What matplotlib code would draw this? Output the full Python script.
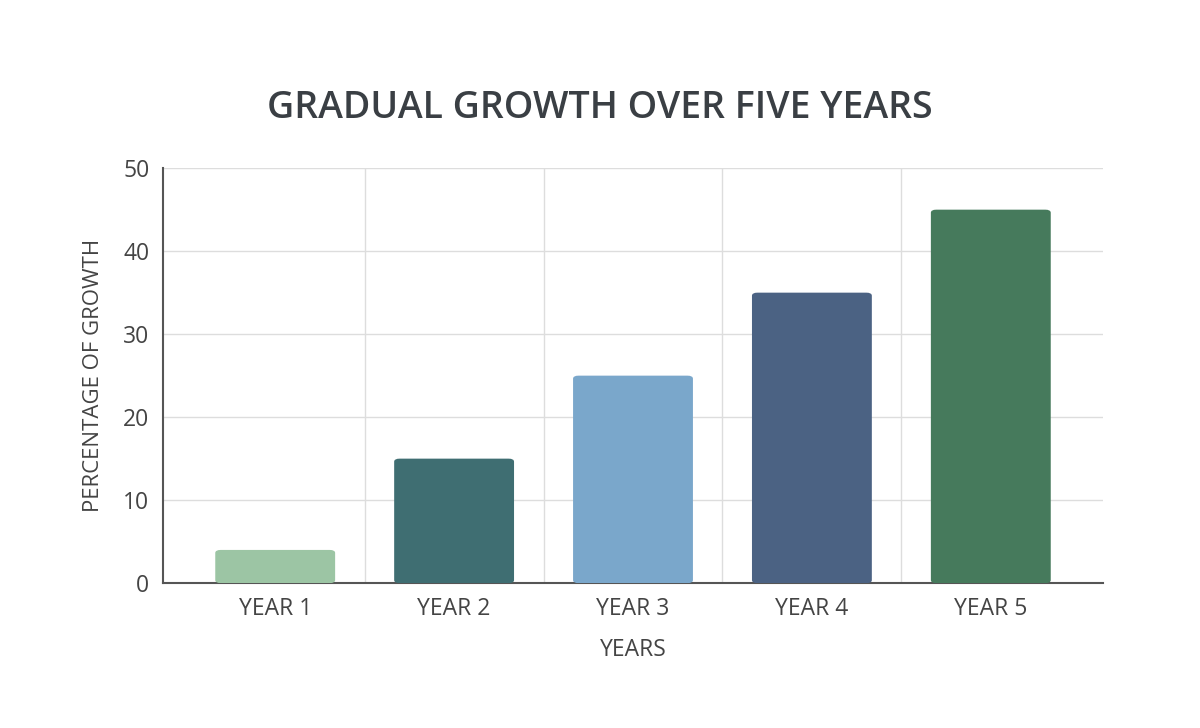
import matplotlib
matplotlib.use("Agg")
import matplotlib.pyplot as plt
from matplotlib.patches import FancyBboxPatch

categories = ["YEAR 1", "YEAR 2", "YEAR 3", "YEAR 4", "YEAR 5"]
values = [4, 15, 25, 35, 45]
colors = ["#9cc5a4", "#3f6e72", "#7aa7cb", "#4b6283", "#467a5c"]

plt.rcParams['font.family'] = ['Open Sans', 'DejaVu Sans']
fig = plt.figure(figsize=(12, 7.28), dpi=100)
ax = fig.add_axes([0.136, 0.199, 0.783, 0.570])
x = list(range(len(categories)))
bars = ax.bar(x, values, width=0.67, color=colors, zorder=3)
for b, c in zip(bars, colors):
    b.set_visible(False)
    p = FancyBboxPatch((b.get_x(), 0), b.get_width(), b.get_height(),
                       boxstyle="round,pad=0,rounding_size=0.03",
                       mutation_aspect=12, facecolor=c, edgecolor='none', zorder=3)
    ax.add_patch(p)
ax.set_xlim(-0.626, 4.626)
ax.set_ylim(0, 50)
ax.set_yticks([0, 10, 20, 30, 40, 50])
ax.set_xticks(x)
ax.set_xticklabels(categories)
ax.set_xticks([0.5, 1.5, 2.5, 3.5], minor=True)
ax.grid(True, which='minor', axis='x', color='#dddddd', lw=1, zorder=0)
ax.grid(True, which='major', axis='y', color='#dddddd', lw=1, zorder=0)
ax.tick_params(which='both', length=0)
ax.tick_params(axis='both', labelsize=16.5, labelcolor='#444444', pad=10)
for s in ['top', 'right']:
    ax.spines[s].set_visible(False)
for s in ['left', 'bottom']:
    ax.spines[s].set_color('#555555')
    ax.spines[s].set_linewidth(1.5)
ax.set_xlabel("YEARS", fontsize=16.5, color='#444444', labelpad=12)
ax.set_ylabel("PERCENTAGE OF GROWTH", fontsize=16, color='#444444', labelpad=14)
fig.text(0.5, 0.852, "GRADUAL GROWTH OVER FIVE YEARS", ha='center', va='center',
         fontsize=27, color='#3a3f44', fontweight='semibold')
fig.savefig("out.png", dpi=100, facecolor='white')
